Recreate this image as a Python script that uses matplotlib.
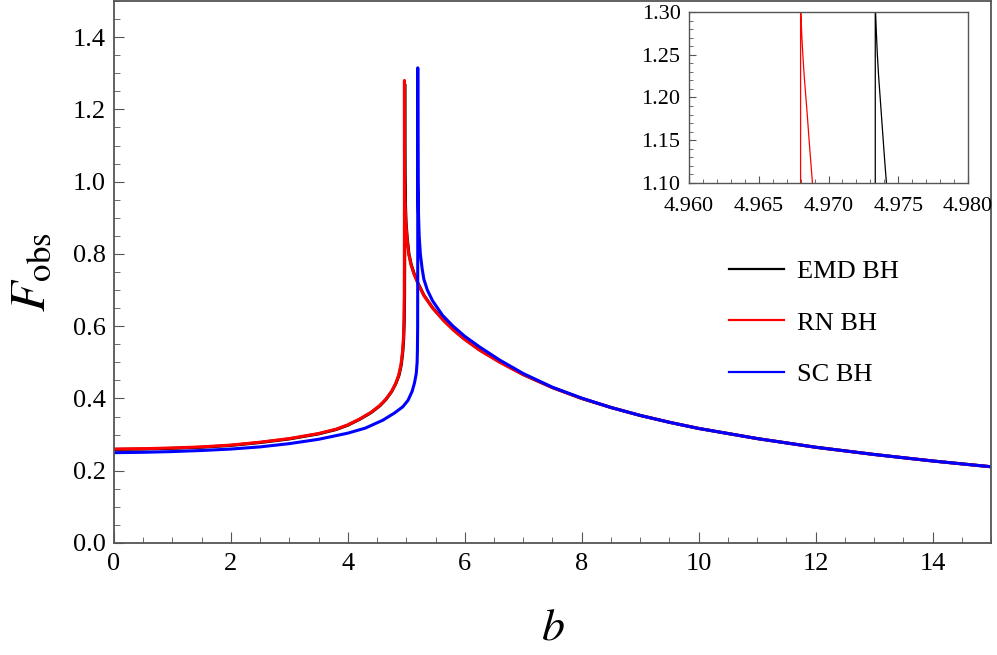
import matplotlib
matplotlib.use("Agg")
import matplotlib.pyplot as plt
from matplotlib.lines import Line2D
from matplotlib.ticker import MultipleLocator, FormatStrFormatter

plt.rcParams['font.family'] = ['Liberation Serif', 'DejaVu Serif']
plt.rcParams['mathtext.fontset'] = 'stix'

# main curves
emd_b = [0, 0.5, 1, 1.5, 2, 2.5, 3, 3.5, 3.8, 4.0, 4.2, 4.4, 4.55, 4.65, 4.75, 4.82,
         4.875, 4.915, 4.94, 4.955, 4.965, 4.97, 4.9725, 4.9731, 4.9733,
         4.9738, 4.9742, 4.976, 4.983, 4.995, 5.015, 5.045, 5.085, 5.135, 5.2, 5.3,
         5.45, 5.63, 5.8, 6.0, 6.25, 6.6, 7, 7.5, 8, 8.5, 9, 9.5, 10, 11, 12, 13, 14, 15]
emd_F = [0.259, 0.260, 0.262, 0.265, 0.270, 0.278, 0.288, 0.302, 0.314, 0.326, 0.342,
         0.361, 0.380, 0.397, 0.419, 0.441, 0.464, 0.494, 0.529, 0.564, 0.614, 0.68,
         0.80, 1.0, 1.27, 1.20, 1.10, 1.02, 0.95, 0.89, 0.845, 0.80, 0.77, 0.745,
         0.719, 0.686, 0.651, 0.618, 0.591, 0.564, 0.535, 0.501, 0.466, 0.430, 0.400,
         0.375, 0.353, 0.334, 0.317, 0.289, 0.265, 0.245, 0.227, 0.211]

rn_b = [0, 0.5, 1, 1.5, 2, 2.5, 3, 3.5, 3.8, 4.0, 4.2, 4.4, 4.55, 4.65, 4.75, 4.82,
        4.87, 4.91, 4.935, 4.95, 4.96, 4.965, 4.9672, 4.9678, 4.968,
        4.9685, 4.9689, 4.971, 4.978, 4.99, 5.01, 5.04, 5.08, 5.13, 5.2, 5.3,
        5.45, 5.63, 5.8, 6.0, 6.25, 6.6, 7, 7.5, 8, 8.5, 9, 9.5, 10, 11, 12, 13, 14, 15]
rn_F = [0.260, 0.261, 0.263, 0.266, 0.271, 0.279, 0.289, 0.303, 0.315, 0.327, 0.343,
        0.362, 0.381, 0.398, 0.420, 0.442, 0.465, 0.495, 0.530, 0.565, 0.615, 0.68,
        0.80, 1.0, 1.28, 1.20, 1.10, 1.02, 0.95, 0.89, 0.845, 0.80, 0.77, 0.745,
        0.718, 0.685, 0.650, 0.617, 0.590, 0.563, 0.534, 0.500, 0.466, 0.430, 0.400,
        0.375, 0.353, 0.334, 0.317, 0.289, 0.265, 0.245, 0.227, 0.211]

sc_b = [0, 0.5, 1, 1.5, 2, 2.5, 3, 3.5, 4, 4.3, 4.6, 4.8, 4.94, 5.03, 5.1, 5.14, 5.17,
        5.185, 5.19, 5.194, 5.1955, 5.196,
        5.197, 5.2, 5.207, 5.22, 5.24, 5.27, 5.3, 5.36, 5.45, 5.62, 5.8, 6.0, 6.25,
        6.6, 7, 7.5, 8, 8.5, 9, 9.5, 10, 11, 12, 13, 14, 15]
sc_F = [0.250, 0.251, 0.253, 0.256, 0.260, 0.266, 0.275, 0.287, 0.304, 0.318, 0.340,
        0.360, 0.377, 0.395, 0.420, 0.443, 0.469, 0.50, 0.534, 0.60, 0.80, 1.315,
        1.15, 1.0, 0.92, 0.85, 0.80, 0.76, 0.73, 0.70, 0.67, 0.630, 0.600, 0.572,
        0.543, 0.506, 0.469, 0.431, 0.401, 0.375, 0.353, 0.334, 0.317, 0.289, 0.265,
        0.245, 0.227, 0.211]

# zoomed-in branches for the inset
rn_zoom_b = [4.96800, 4.96800, 4.96801, 4.96802, 4.96808, 4.96816, 4.96826, 4.96838,
             4.96850, 4.96861, 4.96873, 4.96885, 4.96895]
rn_zoom_F = [1.00, 1.40, 1.40, 1.30, 1.275, 1.25, 1.225, 1.20, 1.175, 1.15, 1.125,
             1.10, 1.085]
emd_zoom_b = [4.97335, 4.97335, 4.97336, 4.97337, 4.97343, 4.97350, 4.97359, 4.97370,
              4.97381, 4.97392, 4.97403, 4.97415, 4.97425]
emd_zoom_F = [1.00, 1.40, 1.40, 1.30, 1.275, 1.25, 1.225, 1.20, 1.175, 1.15, 1.125,
              1.10, 1.085]

labels = ["EMD BH", "RN BH", "SC BH"]
colors = ["black", "#ff0000", "#0000ff"]
spine_col = "#555555"

fig = plt.figure(figsize=(9.97, 6.55), dpi=100)
ax = fig.add_axes([0.1143, 0.171, 0.8797, 0.8275])

ax.plot(emd_b, emd_F, color=colors[0], lw=2.2)
ax.plot(rn_b, rn_F, color=colors[1], lw=2.2)
ax.plot(sc_b, sc_F, color=colors[2], lw=2.2)

ax.set_xlim(0, 15)
ax.set_ylim(0, 1.5)
ax.xaxis.set_major_locator(MultipleLocator(2))
ax.xaxis.set_minor_locator(MultipleLocator(0.5))
ax.yaxis.set_major_locator(MultipleLocator(0.2))
ax.yaxis.set_minor_locator(MultipleLocator(0.05))
ax.xaxis.set_major_formatter(FormatStrFormatter('%d'))
ax.yaxis.set_major_formatter(FormatStrFormatter('%.1f'))
ax.tick_params(which='both', direction='in', colors=spine_col, labelcolor='black',
               labelsize=19)
ax.tick_params(axis='x', which='major', length=8, pad=7)
ax.tick_params(axis='x', which='minor', length=4.5)
ax.tick_params(axis='y', which='major', length=7.5, pad=6)
ax.tick_params(axis='y', which='minor', length=4)
for s in ax.spines.values():
    s.set_color(spine_col)
    s.set_linewidth(1.3)

ax.set_xlabel(r'$b$', fontsize=33, labelpad=23)
ax.set_ylabel(r'$F_{\mathrm{obs}}$', fontsize=36, labelpad=12)

handles = [Line2D([], [], color=c, lw=1.6) for c in colors]
ax.legend(handles, labels, loc='center left', bbox_to_anchor=(0.701, 0.406),
          frameon=False, fontsize=19, borderpad=0, borderaxespad=0,
          handlelength=2.1, handletextpad=0.5, labelspacing=1.07)

# inset
ins = fig.add_axes([0.691, 0.7206, 0.280, 0.2611])
ins.plot(emd_zoom_b, emd_zoom_F, color=colors[0], lw=0.9)
ins.plot(rn_zoom_b, rn_zoom_F, color=colors[1], lw=0.9)
ins.set_xlim(4.96, 4.98)
ins.set_ylim(1.10, 1.30)
ins.xaxis.set_major_locator(MultipleLocator(0.005))
ins.xaxis.set_minor_locator(MultipleLocator(0.001))
ins.yaxis.set_major_locator(MultipleLocator(0.05))
ins.yaxis.set_minor_locator(MultipleLocator(0.01))
ins.xaxis.set_major_formatter(FormatStrFormatter('%.3f'))
ins.yaxis.set_major_formatter(FormatStrFormatter('%.2f'))
ins.tick_params(which='both', direction='in', colors=spine_col, labelcolor='black',
                labelsize=16)
ins.tick_params(which='major', length=5)
ins.tick_params(which='minor', length=3)
ins.tick_params(axis='x', pad=10)
ins.tick_params(axis='y', pad=6)
for s in ins.spines.values():
    s.set_color(spine_col)
    s.set_linewidth(1.0)

fig.savefig("out.png", dpi=100)
